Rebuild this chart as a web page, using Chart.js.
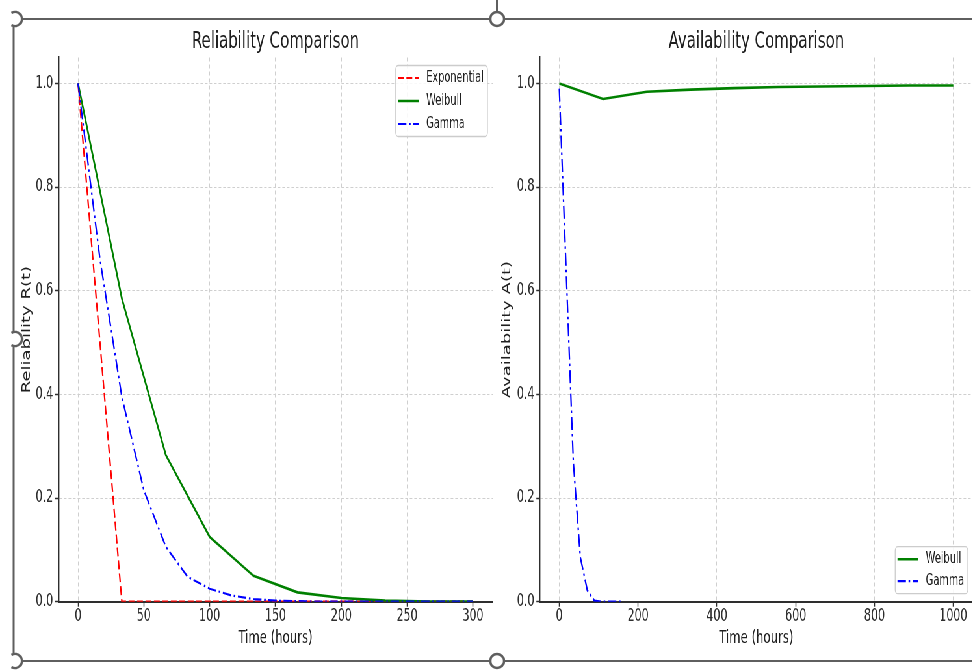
<!DOCTYPE html>
<html>
<head>
<meta charset="utf-8">
<title>Reliability and Availability Comparison</title>
<script src="https://cdn.jsdelivr.net/npm/chart.js@4.4.1/dist/chart.umd.min.js"></script>
<style>
  html, body { margin: 0; padding: 0; background: #fff; overflow: hidden; }
  #page { position: relative; width: 972px; height: 670px; overflow: hidden; background: #fff; }
  /* the reference figure is squeezed horizontally, so draw wide and squeeze */
  #stage { position: absolute; left: 0; top: 0; width: 1500px; height: 670px; transform: scaleX(0.65); transform-origin: 0 0; }
  #stage canvas { position: absolute; top: 0; }
  #relChart { left: 0; }
  #availChart { left: 765px; }
  #frame { position: absolute; left: 0; top: 0; pointer-events: none; }
</style>
</head>
<body>
<div id="page">
  <div id="stage">
    <canvas id="relChart" width="765" height="670"></canvas>
    <canvas id="availChart" width="735" height="670"></canvas>
  </div>
  <svg id="frame" width="972" height="670">
    <g stroke="#5f5f5f" stroke-width="2" fill="none">
      <line x1="22" y1="19" x2="972" y2="19"/>
      <line x1="22" y1="661" x2="972" y2="661"/>
      <line x1="13.5" y1="27" x2="13.5" y2="332"/>
      <line x1="13.5" y1="347" x2="13.5" y2="653"/>
      <line x1="497" y1="0" x2="497" y2="12"/>
    </g>
    <g stroke="#5f5f5f" stroke-width="2.5" fill="#fff">
      <circle cx="497" cy="19" r="7"/>
      <circle cx="497" cy="661" r="7"/>
      <path d="M 11.5 12.94 A 7 7 0 1 1 11.5 25.06"/>
      <path d="M 11.5 332.94 A 7 7 0 1 1 11.5 345.06"/>
      <path d="M 11.5 654.94 A 7 7 0 1 1 11.5 667.06"/>
    </g>
  </svg>
</div>
<script>
// Reliability comparison (left panel)
const relTime = [0, 33.3, 66.7, 100, 133.3, 166.7, 200, 233.3, 266.7, 300];
const relExponential = [1.0, 0.0, 0, 0, 0, 0, 0, 0, 0, 0];
const relWeibull = [1.0, 0.585, 0.283, 0.125, 0.05, 0.018, 0.007, 0.002, 0.0005, 0.0001];
const relGammaTime = [0, 16.7, 33.3, 50, 66.7, 83.3, 100, 116.7, 133.3, 150, 166.7, 183.3, 200, 216.7, 233.3, 250, 266.7, 283.3, 300];
const relGamma = [1.0, 0.66, 0.395, 0.215, 0.106, 0.048, 0.025, 0.012, 0.005, 0.002, 0.001, 0, 0, 0, 0, 0, 0, 0, 0];
const relXTicks = [0, 50, 100, 150, 200, 250, 300];

// Availability comparison (right panel)
const availTime = [0, 111.1, 222.2, 333.3, 444.4, 555.6, 666.7, 777.8, 888.9, 1000];
const availWeibull = [1.0, 0.970, 0.984, 0.988, 0.991, 0.993, 0.994, 0.995, 0.996, 0.996];
const availGammaTime = [0, 17.8, 35.6, 53.3, 71.1, 88.9, 106.7, 124.4, 142.2, 160];
const availGamma = [0.99, 0.63, 0.27, 0.086, 0.022, 0.002, 0, 0, 0, 0];
const availXTicks = [0, 200, 400, 600, 800, 1000];

const yTicks = [0, 0.2, 0.4, 0.6, 0.8, 1.0];

// Styling
const FONT = "'DejaVu Sans', sans-serif";
const RED = '#ff0000';
const GREEN = '#008000';
const BLUE = '#0000ff';
const TEXT = '#1f1f1f';
const AXIS = '#2e2e2e';
const GRID = '#cfcfcf';

function series(xs, ys) {
    return xs.map((x, i) => ({ x: x, y: ys[i] }));
}

// matplotlib-style framed legend drawn inside the plot area
const boxLegend = {
    id: 'boxLegend',
    afterDatasetsDraw(chart, args, opts) {
        const ctx = chart.ctx;
        const area = chart.chartArea;
        const items = opts.order.map(i => chart.data.datasets[i]);
        ctx.save();
        ctx.font = `${opts.fontSize}px ${FONT}`;
        const textW = Math.max(...items.map(d => ctx.measureText(d.label).width));
        const w = opts.padLeft + opts.handle + opts.gap + textW + opts.padRight;
        const h = opts.rowTop * 2 + (items.length - 1) * opts.rowStep;
        const x = area.right - opts.margin - w;
        const y = opts.corner === 'top' ? area.top + opts.margin : area.bottom - opts.margin - h;
        const r = 4;

        ctx.beginPath();
        ctx.moveTo(x + r, y);
        ctx.lineTo(x + w - r, y);
        ctx.arcTo(x + w, y, x + w, y + r, r);
        ctx.lineTo(x + w, y + h - r);
        ctx.arcTo(x + w, y + h, x + w - r, y + h, r);
        ctx.lineTo(x + r, y + h);
        ctx.arcTo(x, y + h, x, y + h - r, r);
        ctx.lineTo(x, y + r);
        ctx.arcTo(x, y, x + r, y, r);
        ctx.closePath();
        ctx.fillStyle = 'rgba(255,255,255,0.85)';
        ctx.fill();
        ctx.strokeStyle = '#cccccc';
        ctx.lineWidth = 1.3;
        ctx.stroke();

        items.forEach((d, i) => {
            const cy = y + opts.rowTop + i * opts.rowStep;
            ctx.strokeStyle = d.borderColor;
            ctx.lineWidth = d.borderWidth;
            ctx.setLineDash(d.borderDash || []);
            ctx.beginPath();
            ctx.moveTo(x + opts.padLeft, cy);
            ctx.lineTo(x + opts.padLeft + opts.handle, cy);
            ctx.stroke();
            ctx.setLineDash([]);
            ctx.fillStyle = TEXT;
            ctx.textAlign = 'left';
            ctx.textBaseline = 'middle';
            ctx.fillText(d.label, x + opts.padLeft + opts.handle + opts.gap, cy);
        });
        ctx.restore();
    }
};

function makeChart(canvasId, p) {
    const ctx = document.getElementById(canvasId).getContext('2d');
    return new Chart(ctx, {
        type: 'line',
        data: { datasets: p.datasets },
        options: {
            responsive: false,
            animation: false,
            devicePixelRatio: 1,
            layout: { padding: { left: 0, right: p.padRight, top: 0, bottom: 0 } },
            elements: {
                point: { radius: 0 },
                line: { tension: 0, fill: false }
            },
            plugins: {
                legend: { display: false },
                tooltip: { enabled: false },
                title: {
                    display: true,
                    text: p.title,
                    fullSize: false,
                    color: TEXT,
                    font: { family: FONT, size: 23, weight: 'normal' },
                    padding: { top: 28.5, bottom: 1.4 }
                },
                boxLegend: p.legend
            },
            scales: {
                x: {
                    type: 'linear',
                    min: p.xMin,
                    max: p.xMax,
                    afterBuildTicks: s => { s.ticks = p.xTicks.map(v => ({ value: v })); },
                    afterFit: s => { s.height = 68.3; },
                    ticks: {
                        autoSkip: false,
                        maxRotation: 0,
                        padding: 1,
                        color: AXIS,
                        font: { family: FONT, size: 17, lineHeight: 1 },
                        callback: v => String(v)
                    },
                    grid: { color: GRID, lineWidth: 1, tickColor: AXIS, tickLength: 5, tickWidth: 1.5 },
                    border: { display: true, color: AXIS, width: 2, dash: [4, 3] },
                    title: {
                        display: true,
                        text: 'Time (hours)',
                        color: TEXT,
                        font: { family: FONT, size: 18 },
                        padding: { top: 0, bottom: 20.5 }
                    }
                },
                y: {
                    min: 0,
                    max: 1.05,
                    afterBuildTicks: s => { s.ticks = yTicks.map(v => ({ value: v })); },
                    afterFit: s => { s.width = p.yWidth; },
                    ticks: {
                        autoSkip: false,
                        padding: 3,
                        color: AXIS,
                        font: { family: FONT, size: 17, lineHeight: 1 },
                        callback: v => v.toFixed(1)
                    },
                    grid: { color: GRID, lineWidth: 1, tickColor: AXIS, tickLength: 5, tickWidth: 1.5 },
                    border: { display: true, color: AXIS, width: 2.4, dash: [4, 3] },
                    title: {
                        display: true,
                        text: p.yTitle,
                        color: TEXT,
                        font: { family: FONT, size: 18 },
                        padding: { top: p.yTitlePad, bottom: 0 }
                    }
                }
            }
        },
        plugins: [boxLegend]
    });
}

const legendBase = { fontSize: 15, padLeft: 3.5, handle: 32, gap: 11.5, padRight: 5.5, rowTop: 12.5, rowStep: 23, margin: 8 };

makeChart('relChart', {
    title: 'Reliability Comparison',
    yTitle: 'Reliability R(t)',
    yTitlePad: 30.3,
    yWidth: 89.7,
    padRight: 7,
    xMin: -15,
    xMax: 315,
    xTicks: relXTicks,
    legend: Object.assign({}, legendBase, { corner: 'top', order: [0, 1, 2] }),
    datasets: [
        { label: 'Exponential', data: series(relTime, relExponential), borderColor: RED, borderWidth: 2.2, borderDash: [9, 4], order: 2 },
        { label: 'Weibull', data: series(relTime, relWeibull), borderColor: GREEN, borderWidth: 2.6, order: 1 },
        { label: 'Gamma', data: series(relGammaTime, relGamma), borderColor: BLUE, borderWidth: 2.2, borderDash: [13, 4, 2.5, 4], order: 0 }
    ]
});

makeChart('availChart', {
    title: 'Availability Comparison',
    yTitle: 'Availability A(t)',
    yTitlePad: 5,
    yWidth: 65.2,
    padRight: 3,
    xMin: -50,
    xMax: 1050,
    xTicks: availXTicks,
    legend: Object.assign({}, legendBase, { corner: 'bottom', order: [0, 1], rowStep: 22 }),
    datasets: [
        { label: 'Weibull', data: series(availTime, availWeibull), borderColor: GREEN, borderWidth: 2.6, order: 1 },
        { label: 'Gamma', data: series(availGammaTime, availGamma), borderColor: BLUE, borderWidth: 2.2, borderDash: [13, 4, 2.5, 4], order: 0 }
    ]
});
</script>
</body>
</html>
